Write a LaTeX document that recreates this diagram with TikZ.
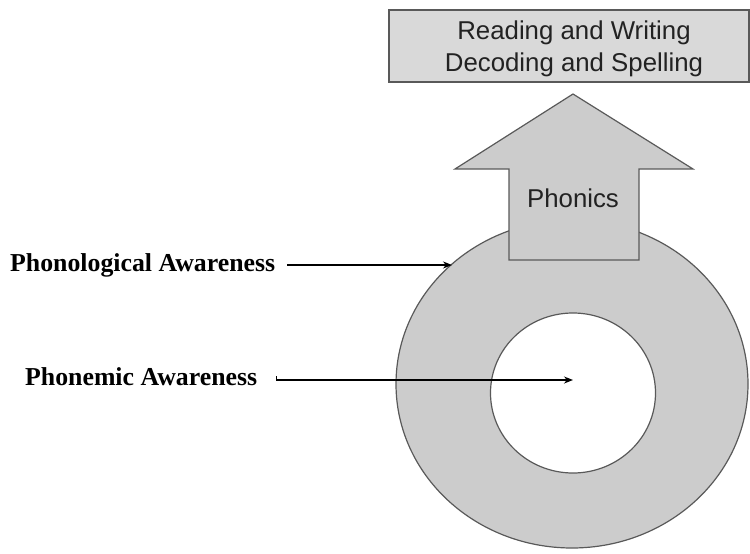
\documentclass[tikz,border=0pt]{standalone}
\usepackage{fontspec}
\setmainfont{Liberation Serif}
\newfontfamily\arialfont{Liberation Sans}
\usetikzlibrary{arrows.meta,shapes.geometric}
\definecolor{shapeedge}{HTML}{595959}
\definecolor{boxfill}{HTML}{D9D9D9}
\definecolor{ringfill}{HTML}{CCCCCC}
\definecolor{textdark}{HTML}{222222}
\tikzset{
  shapeline/.style={draw=shapeedge, line width=1.2pt},
  sanstext/.style={font=\arialfont\fontsize{25.8}{32}\selectfont, text=textdark, inner sep=0pt},
  labeltext/.style={font=\bfseries\fontsize{25.8}{31}\selectfont, text=black, inner sep=0pt},
  pointer/.style={draw=black, line width=1.5pt, -{Stealth[length=9pt,width=7pt]}}
}
\begin{document}
\begin{tikzpicture}[x=1pt,y=-1pt]
\useasboundingbox (0,0) rectangle (750,554);
% top box
\node[shapeline, fill=boxfill, rectangle, minimum width=360pt, minimum height=72pt, inner sep=0pt] (box) at (569,46) {};
\node[sanstext, align=center] (boxtext) at (574,49) {Reading and Writing\\Decoding and Spelling};
% outer ring and inner hole
\node[shapeline, fill=ringfill, ellipse, minimum width=352pt, minimum height=328pt, inner sep=0pt] (outer) at (572,384) {};
\node[shapeline, fill=white, ellipse, minimum width=165pt, minimum height=160pt, inner sep=0pt] (inner) at (573,393) {};
% block arrow (Phonics)
\draw[shapeline, fill=ringfill, line join=miter]
  (573,94) -- (693,169) -- (639,169) -- (639,260) -- (509,260) -- (509,169) -- (455,169) -- cycle;
\node[sanstext, anchor=base] (phonics) at (573,207) {Phonics};
% labels
\node[labeltext, anchor=west] (phonological) at (10,265) {Phonological Awareness};
\node[labeltext, anchor=base west] (phonemic) at (25,385) {Phonemic Awareness};
\coordinate (ringedge) at (452,265);
\coordinate (innercentre) at (573,380);
\draw[pointer] (phonological.east) ++(12pt,0) coordinate (p1) -- (ringedge);
\draw[pointer] (phonemic.east) ++(19pt,0) coordinate (p2) |- (innercentre);
\end{tikzpicture}
\end{document}
